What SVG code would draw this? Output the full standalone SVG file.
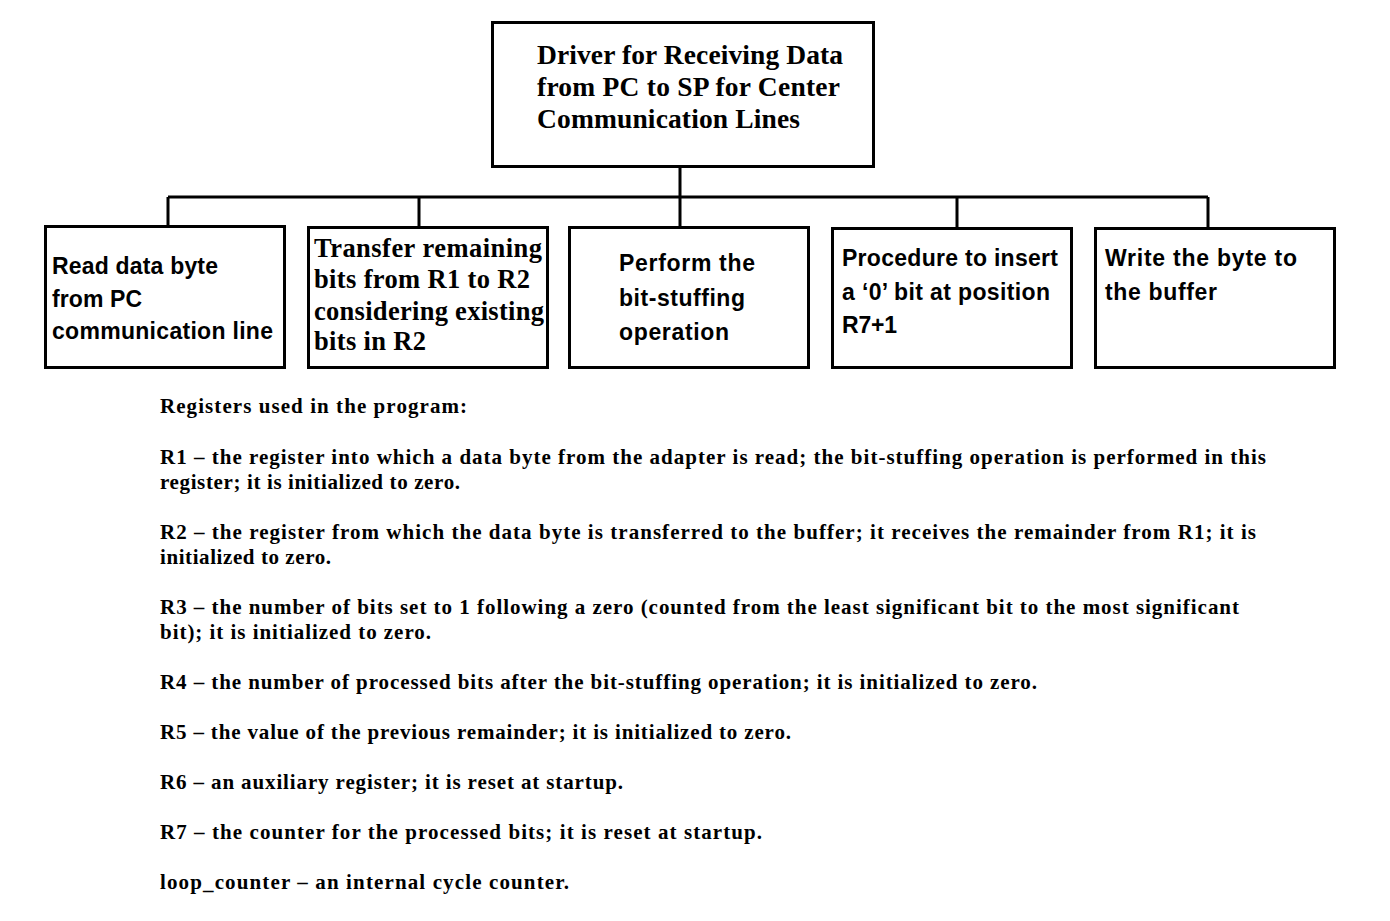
<svg xmlns="http://www.w3.org/2000/svg" width="1390" height="921" viewBox="0 0 1390 921">
<style>
.box{fill:#fff;stroke:#000;stroke-width:3}
.con{fill:none;stroke:#000;stroke-width:3}
.serif{font-family:"Liberation Serif","Times New Roman",serif;font-weight:bold;fill:#000}
.sans{font-family:"Liberation Sans",Arial,sans-serif;font-weight:bold;fill:#000;font-size:23px}
.title{font-size:27.5px}
.sb{font-size:26.5px}
.body{font-size:21px}
</style>
<rect width="1390" height="921" fill="#fff"/>
<g id="connectors">
<path class="con" d="M680 167 V197 M168 197 H1208 M168 197 V226 M419 197 V227 M680 197 V227 M957 197 V228 M1208 197 V228"/>
</g>
<g id="root">
<rect class="box" x="492.5" y="22.5" width="381" height="144"/>
<text class="serif title" x="537" y="64" textLength="306">Driver for Receiving Data</text>
<text class="serif title" x="537" y="96" textLength="303">from PC to SP for Center</text>
<text class="serif title" x="537" y="128" textLength="263">Communication Lines</text>
</g>
<g id="n1">
<rect class="box" x="45.5" y="226.5" width="239" height="141"/>
<text class="sans" x="52" y="274" textLength="166">Read data byte</text>
<text class="sans" x="52" y="307" textLength="90">from PC</text>
<text class="sans" x="52" y="339" textLength="221">communication line</text>
</g>
<g id="n2">
<rect class="box" x="308.5" y="227.5" width="239" height="140"/>
<text class="serif sb" x="314" y="257" textLength="228">Transfer remaining</text>
<text class="serif sb" x="314" y="288" textLength="216">bits from R1 to R2</text>
<text class="serif sb" x="314" y="320" textLength="230">considering existing</text>
<text class="serif sb" x="314" y="350" textLength="112">bits in R2</text>
</g>
<g id="n3">
<rect class="box" x="569.5" y="227.5" width="239" height="140"/>
<text class="sans" x="619" y="271" textLength="136">Perform the</text>
<text class="sans" x="619" y="306" textLength="126">bit-stuffing</text>
<text class="sans" x="619" y="340" textLength="110">operation</text>
</g>
<g id="n4">
<rect class="box" x="832.5" y="228.5" width="239" height="139"/>
<text class="sans" x="842" y="266" textLength="216">Procedure to insert</text>
<text class="sans" x="842" y="300" textLength="208">a ‘0’ bit at position</text>
<text class="sans" x="842" y="333" textLength="55">R7+1</text>
</g>
<g id="n5">
<rect class="box" x="1095.5" y="228.5" width="239" height="139"/>
<text class="sans" x="1105" y="266" textLength="192">Write the byte to</text>
<text class="sans" x="1105" y="300" textLength="112">the buffer</text>
</g>
<g id="notes" class="serif body">
<text x="160" y="413" textLength="307">Registers used in the program:</text>
<text x="160" y="464" textLength="1106">R1 – the register into which a data byte from the adapter is read; the bit-stuffing operation is performed in this</text>
<text x="160" y="489" textLength="300">register; it is initialized to zero.</text>
<text x="160" y="539" textLength="1096">R2 – the register from which the data byte is transferred to the buffer; it receives the remainder from R1; it is</text>
<text x="160" y="564" textLength="171">initialized to zero.</text>
<text x="160" y="614" textLength="1079">R3 – the number of bits set to 1 following a zero (counted from the least significant bit to the most significant</text>
<text x="160" y="639" textLength="271">bit); it is initialized to zero.</text>
<text x="160" y="689" textLength="877">R4 – the number of processed bits after the bit-stuffing operation; it is initialized to zero.</text>
<text x="160" y="739" textLength="631">R5 – the value of the previous remainder; it is initialized to zero.</text>
<text x="160" y="789" textLength="463">R6 – an auxiliary register; it is reset at startup.</text>
<text x="160" y="839" textLength="602">R7 – the counter for the processed bits; it is reset at startup.</text>
<text x="160" y="889" textLength="409">loop_counter – an internal cycle counter.</text>
</g>
</svg>
